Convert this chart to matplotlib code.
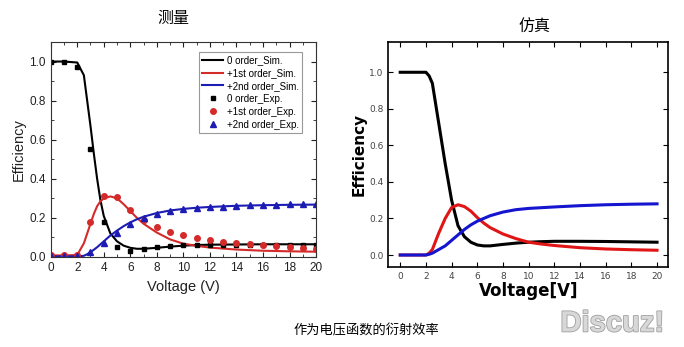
#! /usr/bin/env python3
import matplotlib
matplotlib.use('Agg')
import matplotlib.pyplot as plt
import matplotlib.patheffects as pe
from matplotlib.ticker import MultipleLocator

sim_v = [0, 1, 2, 2.5, 2.75, 3, 3.25, 3.5, 3.75, 4, 4.5, 5, 5.5, 6, 6.5, 7,
         8, 9, 10, 11, 12, 14, 16, 18, 20]
sim0 = [1.0, 1.0, 0.995, 0.93, 0.8, 0.67, 0.53, 0.4, 0.29, 0.21, 0.12, 0.08,
        0.058, 0.047, 0.042, 0.042, 0.047, 0.053, 0.058, 0.061, 0.063, 0.064,
        0.065, 0.065, 0.065]
sim1 = [0.008, 0.008, 0.01, 0.07, 0.12, 0.17, 0.22, 0.26, 0.285, 0.3, 0.31,
        0.3, 0.27, 0.235, 0.2, 0.17, 0.125, 0.09, 0.068, 0.057, 0.048, 0.038,
        0.032, 0.029, 0.027]
sim2 = [0.003, 0.003, 0.003, 0.006, 0.014, 0.025, 0.037, 0.05, 0.065, 0.08,
        0.11, 0.135, 0.158, 0.177, 0.193, 0.206, 0.225, 0.238, 0.246, 0.252,
        0.256, 0.262, 0.265, 0.267, 0.268]

# measured panel: experimental points
exp_v = list(range(21))
exp0 = [1.0, 1.0, 0.97, 0.55, 0.18, 0.05, 0.033, 0.04, 0.05, 0.057, 0.06,
        0.062, 0.063, 0.063, 0.063, 0.063, 0.063, 0.063, 0.062, 0.06, 0.06]
exp1 = [0.008, 0.008, 0.01, 0.18, 0.31, 0.305, 0.24, 0.19, 0.155, 0.127,
        0.11, 0.097, 0.086, 0.077, 0.07, 0.064, 0.061, 0.058, 0.053, 0.048,
        0.042]
exp2 = [0.003, 0.003, 0.005, 0.025, 0.07, 0.125, 0.17, 0.2, 0.222, 0.235,
        0.245, 0.25, 0.255, 0.258, 0.262, 0.265, 0.267, 0.268, 0.27, 0.272,
        0.27]

# simulation panel
rv = [0, 1, 2, 2.25, 2.5, 3, 3.5, 4, 4.5, 5, 5.5, 6, 6.5, 7, 8, 9, 10, 11,
      12, 14, 16, 18, 20]
r0 = [1.0, 1.0, 1.0, 0.98, 0.94, 0.72, 0.5, 0.3, 0.16, 0.1, 0.07, 0.055,
      0.05, 0.05, 0.058, 0.065, 0.07, 0.073, 0.075, 0.075, 0.074, 0.072, 0.07]
r1 = [0.0, 0.0, 0.0, 0.01, 0.03, 0.12, 0.2, 0.26, 0.275, 0.265, 0.24, 0.205,
      0.175, 0.15, 0.115, 0.09, 0.07, 0.06, 0.052, 0.04, 0.033, 0.029, 0.026]
r2 = [0.0, 0.0, 0.0, 0.004, 0.01, 0.03, 0.05, 0.08, 0.11, 0.14, 0.165, 0.185,
      0.2, 0.215, 0.235, 0.248, 0.255, 0.259, 0.263, 0.27, 0.275, 0.278, 0.28]

labels_sim = ['0 order_Sim.', '+1st order_Sim.', '+2nd order_Sim.']
labels_exp = ['0 order_Exp.', '+1st order_Exp.', '+2nd order_Exp.']

cjk = ['Noto Sans CJK SC', 'DejaVu Sans']


def main():
    fig = plt.figure(figsize=(6.84, 3.47), dpi=100)

    # left: measured
    ax = fig.add_axes([0.0741, 0.2594, 0.388, 0.6196])
    red, blue = '#d42a2a', '#1c1cb4'
    ax.plot(sim_v, sim0, color='black', lw=1.5, label=labels_sim[0])
    ax.plot(sim_v, sim1, color=red, lw=1.5, label=labels_sim[1])
    ax.plot(sim_v, sim2, color=blue, lw=1.5, label=labels_sim[2])
    ax.plot(exp_v, exp0, 's', color='black', ms=3.3, label=labels_exp[0])
    ax.plot(exp_v, exp1, 'o', color=red, ms=4.0, label=labels_exp[1])
    ax.plot(exp_v, exp2, '^', color=blue, ms=4.0, label=labels_exp[2])
    ax.set_xlim(0, 20)
    ax.set_ylim(0, 1.1)
    ax.xaxis.set_major_locator(MultipleLocator(2))
    ax.xaxis.set_minor_locator(MultipleLocator(1))
    ax.yaxis.set_major_locator(MultipleLocator(0.2))
    ax.yaxis.set_minor_locator(MultipleLocator(0.1))
    ax.yaxis.set_major_formatter(matplotlib.ticker.FormatStrFormatter('%.1f'))
    ax.tick_params(which='both', direction='in', top=True, right=True,
                   labelsize=8.5, colors='#222222')
    ax.tick_params(which='major', length=3.5)
    ax.tick_params(which='minor', length=2)
    for lab in ax.get_xticklabels() + ax.get_yticklabels():
        lab.set_family('Liberation Sans')
    for s in ax.spines.values():
        s.set_color('#333333')
    ax.set_xlabel('Voltage (V)', fontsize=10.5, family='Liberation Sans',
                  color='#222222')
    ax.set_ylabel('Efficiency', fontsize=10.5, family='Liberation Sans',
                  color='#222222')
    ax.xaxis.set_label_coords(0.5, -0.107)
    ax.yaxis.set_label_coords(-0.093, 0.5)
    leg = ax.legend(loc='upper right', bbox_to_anchor=(0.947, 0.953),
                    fancybox=False, framealpha=1,
                    edgecolor='#999999', handlelength=2.2, labelspacing=0.3,
                    borderpad=0.3, handletextpad=0.4, borderaxespad=0,
                    prop={'family': 'Liberation Sans', 'size': 7.0})
    leg.get_frame().set_linewidth(0.8)

    # right: simulation
    bx = fig.add_axes([0.5677, 0.2314, 0.4094, 0.6467])
    bx.plot(rv, r0, color='black', lw=2.2)
    bx.plot(rv, r1, color='#e01515', lw=2.2)
    bx.plot(rv, r2, color='#1515d0', lw=2.2)
    bx.set_xlim(-0.93, 20.88)
    bx.set_ylim(-0.064, 1.164)
    bx.xaxis.set_major_locator(MultipleLocator(2))
    bx.set_yticks([0, 0.2, 0.4, 0.6, 0.8, 1.0])
    bx.yaxis.set_major_formatter(matplotlib.ticker.FormatStrFormatter('%.1f'))
    bx.tick_params(direction='in', top=True, right=True, length=3.5,
                   labelsize=6.5, labelcolor='#444444')
    for s in bx.spines.values():
        s.set_linewidth(1.2)
    bx.set_xlabel('Voltage[V]', fontsize=12, fontweight='bold')
    bx.set_ylabel('Efficiency', fontsize=11, fontweight='bold')
    bx.xaxis.set_label_coords(0.5, -0.067)
    bx.yaxis.set_label_coords(-0.076, 0.5)

    fig.text(0.253, 0.948, '测量', family=cjk, fontsize=11.5,
             fontweight='medium', ha='center', va='center')
    fig.text(0.782, 0.924, '仿真', family=cjk, fontsize=11.5,
             fontweight='medium', ha='center', va='center')
    fig.text(0.535, 0.046, '作为电压函数的衍射效率', family=cjk, fontsize=9.5,
             ha='center', va='center')
    fig.text(0.895, 0.068, 'Discuz!', family='Liberation Sans',
             fontweight='bold', fontsize=21, color='#d8d8d8',
             ha='center', va='center',
             path_effects=[pe.withStroke(linewidth=1.3, foreground='#a4a4a4')])

    plt.savefig('out.png', dpi=100)


if __name__ == '__main__':
    main()
